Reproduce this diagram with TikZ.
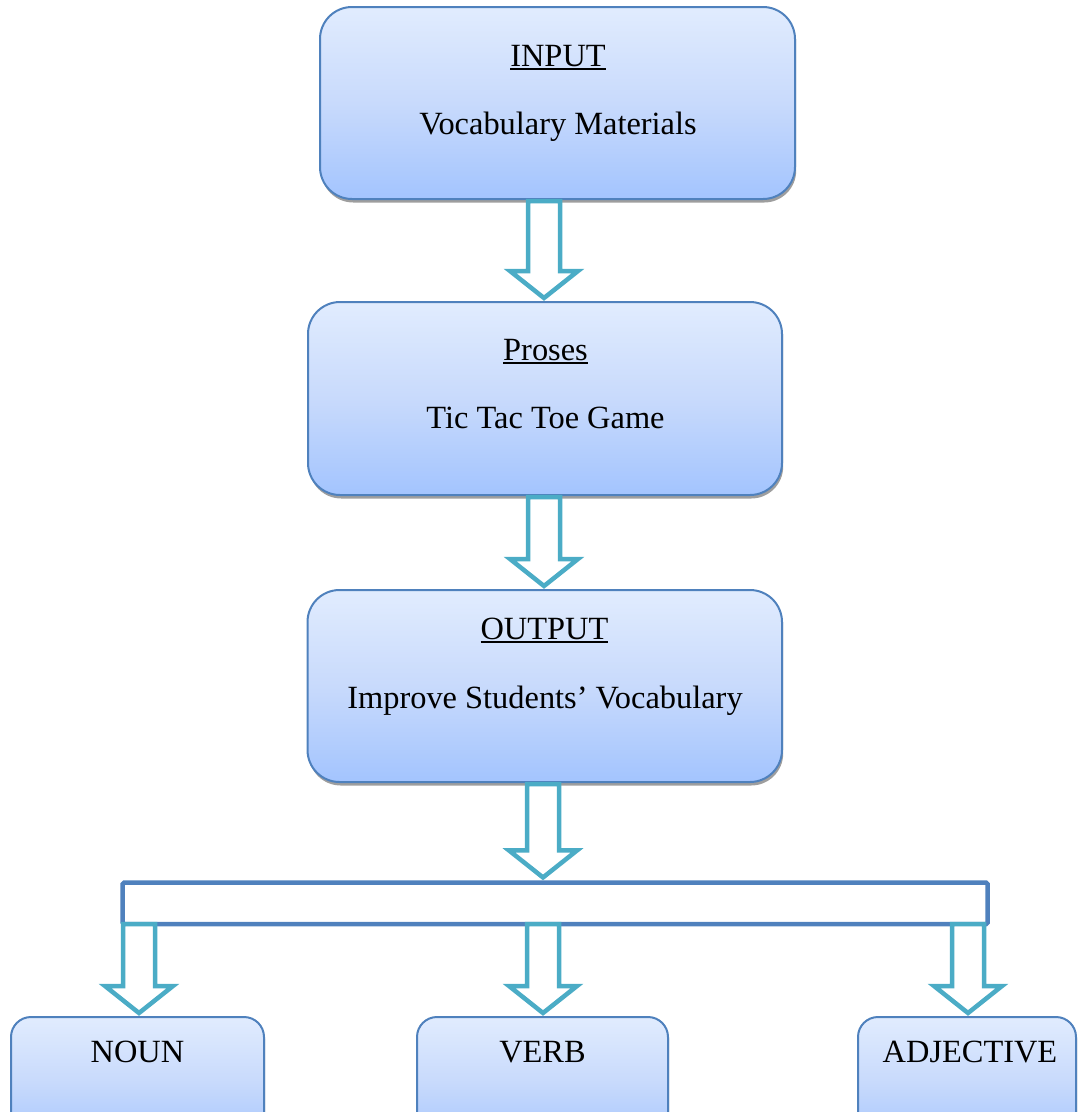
\documentclass[tikz,border=0pt]{standalone}
\usepackage{fontspec}
\setmainfont{Liberation Serif}
\usetikzlibrary{shadows,calc}
\definecolor{bx}{RGB}{79,129,189}
\definecolor{ar}{RGB}{75,172,198}
\definecolor{gtop}{RGB}{225,236,254}
\definecolor{gmid}{RGB}{200,218,252}
\definecolor{gbot}{RGB}{163,196,254}
\newsavebox{\myulbox}
\newcommand{\myul}[1]{\sbox{\myulbox}{#1}\rlap{\rule[-4pt]{\wd\myulbox}{1.9pt}}\usebox{\myulbox}}
\newcommand{\hollowarrow}[2]{%
  \draw[blockar] let \p1=(#1), \p2=(#2) in
    (\x1-16pt,\y1) -- (\x1-16pt,\y2+30pt) -- (\x1-34pt,\y2+30pt) --
    (\x1,\y2+3pt) -- (\x1+34pt,\y2+30pt) -- (\x1+16pt,\y2+30pt) --
    (\x1+16pt,\y1) -- cycle;}
\begin{document}
\begin{tikzpicture}[x=1pt,y=-1pt,
  box/.style={draw=bx, line width=2pt, rounded corners=32pt, inner sep=0pt,
    top color=gtop, bottom color=gbot, middle color=gmid,
    drop shadow={shadow xshift=1.2pt, shadow yshift=-3.5pt, fill=black, opacity=0.38}},
  sbox/.style={box, rounded corners=20pt},
  txt/.style={inner sep=0pt, anchor=base, font=\fontsize{32.4}{38}\selectfont},
  blockar/.style={draw=ar, line width=4.5pt, fill=white},
  brk/.style={draw=bx, line width=4.5pt, rounded corners=1.5pt, inner sep=0pt}]
\clip (0,0) rectangle (1078,1112);
% main boxes
\node[box, minimum width=475pt, minimum height=192pt] (in) at (557.5,103) {};
\node[txt] (inT) at (558,66) {\myul{INPUT}};
\node[txt] (inS) at (558,134) {Vocabulary Materials};
\node[box, minimum width=474pt, minimum height=193pt] (pr) at (545,398.5) {};
\node[txt] (prT) at (545.5,360) {\myul{Proses}};
\node[txt] (prS) at (545.5,428) {Tic Tac Toe Game};
\node[box, minimum width=474.5pt, minimum height=192pt] (out) at (544.75,686) {};
\node[txt] (outT) at (544.5,639) {\myul{OUTPUT}};
\node[txt] (outS) at (545,708) {Improve Students’ Vocabulary};
% bracket
\node[brk, minimum width=865pt, minimum height=41.3pt] (br) at (555.2,903.35) {};
% bottom boxes
\node[sbox, minimum width=253pt, minimum height=130pt] (noun) at (137.5,1082) {};
\node[txt] (nounT) at (137.5,1062) {NOUN};
\node[sbox, minimum width=251pt, minimum height=130pt] (verb) at (542.5,1082) {};
\node[txt] (verbT) at (542.5,1062) {VERB};
\node[sbox, minimum width=218pt, minimum height=130pt] (adj) at (967,1082) {};
\node[txt] (adjT) at (970,1062) {ADJECTIVE};
% arrow start points
\coordinate (s1) at (544,201);
\coordinate (s2) at (544,497);
\coordinate (s3) at (543,784);
\coordinate (s4) at (139,924);
\coordinate (s5) at (543,924);
\coordinate (s6) at (968,924);
\hollowarrow{s1}{pr.north}
\hollowarrow{s2}{out.north}
\hollowarrow{s3}{br.north}
\hollowarrow{s4}{noun.north}
\hollowarrow{s5}{verb.north}
\hollowarrow{s6}{adj.north}
\end{tikzpicture}
\end{document}
